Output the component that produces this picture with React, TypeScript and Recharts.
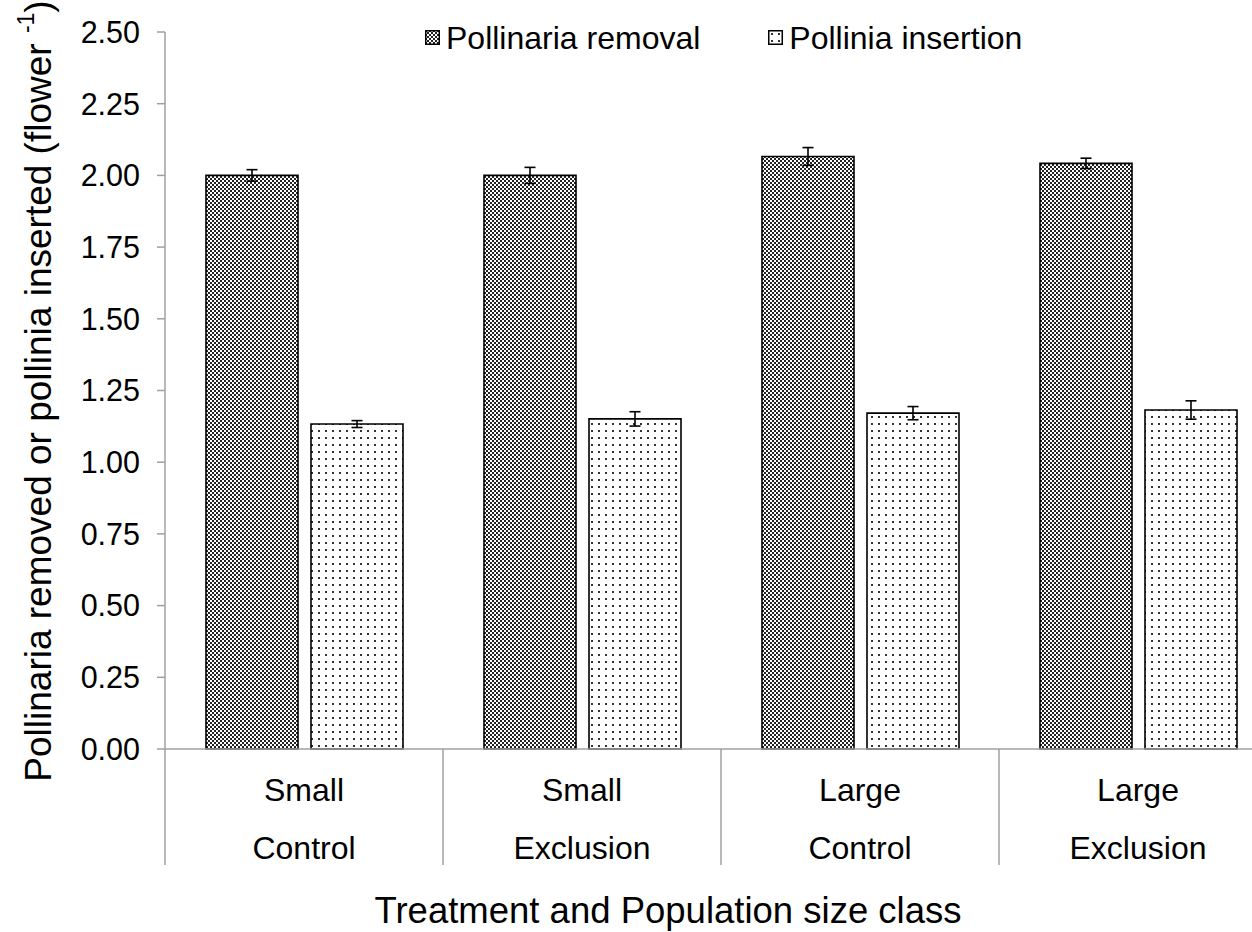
import React from 'react';
import { BarChart, Bar, XAxis, YAxis, ErrorBar, Legend } from 'recharts';

// values
const sizeClass = ['Small', 'Small', 'Large', 'Large'];
const treatment = ['Control', 'Exclusion', 'Control', 'Exclusion'];
const removal = [2.0, 2.0, 2.066, 2.042];
const removalErr = [0.02, 0.028, 0.031, 0.018];
const insertion = [1.133, 1.151, 1.171, 1.182];
const insertionErr = [0.012, 0.025, 0.023, 0.032];
const yTicks = [0, 0.25, 0.5, 0.75, 1, 1.25, 1.5, 1.75, 2, 2.25, 2.5];

const data = treatment.map((t, i) => ({
  name: `${sizeClass[i]} ${t}`,
  size: sizeClass[i],
  treatment: t,
  removal: removal[i],
  removalErr: removalErr[i],
  insertion: insertion[i],
  insertionErr: insertionErr[i],
}));

const W = 1290;
const H = 932;
const LEFT = 165;
const RIGHT = 13;
const BAND = (W - LEFT - RIGHT) / data.length;
const FONT = '"Liberation Sans", Arial, Helvetica, sans-serif';
const AXIS = '#a0a0a0';

function CategoryTick(props: any) {
  const { x, y, payload, index } = props;
  const d = data[index] ?? data.find((r) => r.name === payload.value);
  return (
    <g>
      <line x1={x - BAND / 2} x2={x - BAND / 2} y1={y} y2={y + 116} stroke={AXIS} strokeWidth={1.5} />
      {index === data.length - 1 && (
        <line x1={x + BAND / 2} x2={x + BAND / 2} y1={y} y2={y + 116} stroke={AXIS} strokeWidth={1.5} />
      )}
      <text x={x} y={y + 41} textAnchor="middle" dominantBaseline="central" fontSize={32} fontFamily={FONT} fill="#000">
        {d.size}
      </text>
      <text x={x} y={y + 99} textAnchor="middle" dominantBaseline="central" fontSize={32} fontFamily={FONT} fill="#000">
        {d.treatment}
      </text>
    </g>
  );
}

function LegendBox() {
  const item = (fill: string, label: string, gap: number) => (
    <span style={{ display: 'inline-flex', alignItems: 'center', marginRight: gap }}>
      <svg width={15} height={15} style={{ marginRight: 6 }}>
        <rect x={0.75} y={0.75} width={13.5} height={13.5} fill={fill} stroke="#000" strokeWidth={1.5} />
      </svg>
      <span>{label}</span>
    </span>
  );
  return (
    <div style={{ fontFamily: FONT, fontSize: 32, color: '#000', whiteSpace: 'nowrap', lineHeight: '36px' }}>
      {item('url(#dense)', 'Pollinaria removal', 68)}
      {item('url(#dots)', 'Pollinia insertion', 0)}
    </div>
  );
}

export default function App() {
  return (
    <div style={{ position: 'absolute', left: 0, top: 0, width: 1252, height: H, overflow: 'hidden', background: '#fff' }}>
      <BarChart width={W} height={H} data={data} margin={{ top: 32, right: RIGHT, left: 0, bottom: 0 }} barSize={92} barGap={13}>
        <defs>
          <pattern id="dense" width={8} height={8} patternUnits="userSpaceOnUse">
            <rect width={8} height={8} fill="#fff" />
            <rect x={0} y={0} width={2} height={2} fill="#222" />
            <rect x={4} y={0} width={2} height={2} fill="#222" />
            <rect x={2} y={2} width={2} height={2} fill="#222" />
            <rect x={6} y={2} width={2} height={2} fill="#222" />
            <rect x={0} y={4} width={2} height={2} fill="#222" />
            <rect x={4} y={4} width={2} height={2} fill="#222" />
            <rect x={2} y={6} width={2} height={2} fill="#222" />
            <rect x={6} y={6} width={2} height={2} fill="#222" />
          </pattern>
          <pattern id="dots" width={7} height={7} patternUnits="userSpaceOnUse">
            <rect width={7} height={7} fill="#fff" />
            <rect x={3} y={3} width={2} height={2} fill="#333" />
          </pattern>
        </defs>
        <XAxis
          dataKey="name"
          height={183}
          tickSize={0}
          tickMargin={0}
          interval={0}
          axisLine={{ stroke: AXIS, strokeWidth: 1.5 }}
          tick={<CategoryTick />}
          label={{
            content: () => (
              <text x={668} y={910} textAnchor="middle" dominantBaseline="central" fontSize={36.5} fontFamily={FONT} fill="#000">
                Treatment and Population size class
              </text>
            ),
          }}
        />
        <YAxis
          width={LEFT}
          domain={[0, 2.5]}
          ticks={yTicks}
          interval={0}
          tickSize={8}
          tickMargin={17}
          tickFormatter={(v: number) => v.toFixed(2)}
          axisLine={{ stroke: AXIS, strokeWidth: 1.5 }}
          tickLine={{ stroke: AXIS, strokeWidth: 1.5 }}
          tick={{ fontSize: 30.5, fill: '#000', fontFamily: FONT }}
          label={{
            content: () => (
              <text
                x={38}
                y={391}
                transform="rotate(-90 38 391)"
                textAnchor="middle"
                dominantBaseline="central"
                fontSize={37}
                fontFamily={FONT}
                fill="#000"
              >
                Pollinaria removed or pollinia inserted (flower{' '}
                <tspan fontSize={23} dy={-12}>-1</tspan>
                <tspan dy={12}>)</tspan>
              </text>
            ),
          }}
        />
        <Legend
          verticalAlign="middle"
          align="center"
          layout="horizontal"
          content={() => <LegendBox />}
          wrapperStyle={{ top: 16, left: 425, width: 800 }}
        />
        <Bar dataKey="removal" fill="url(#dense)" stroke="#000" strokeWidth={1.6} isAnimationActive={false}>
          <ErrorBar dataKey="removalErr" width={5.5} stroke="#000" strokeWidth={1.6} />
        </Bar>
        <Bar dataKey="insertion" fill="url(#dots)" stroke="#000" strokeWidth={1.6} isAnimationActive={false}>
          <ErrorBar dataKey="insertionErr" width={5.5} stroke="#000" strokeWidth={1.6} />
        </Bar>
      </BarChart>
    </div>
  );
}
